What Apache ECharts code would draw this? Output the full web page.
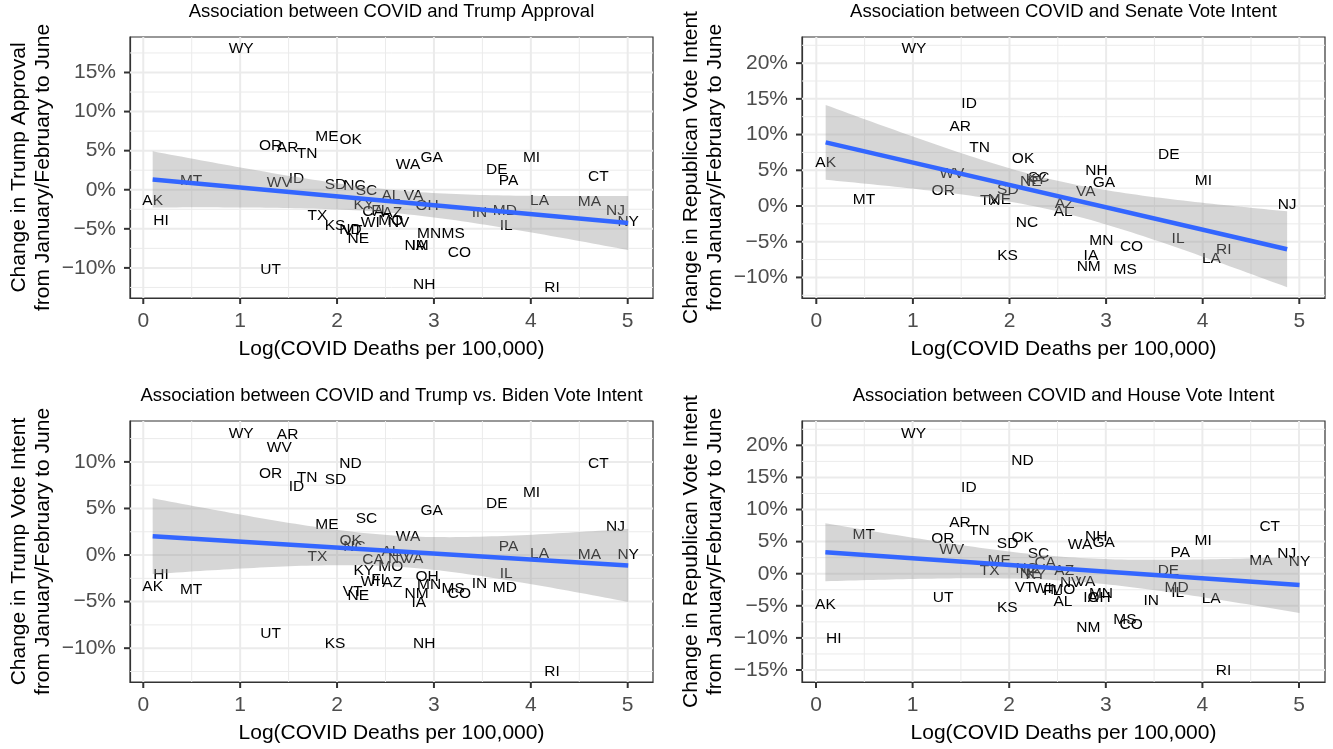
<!DOCTYPE html>
<html><head><meta charset="utf-8">
<script src="https://cdn.jsdelivr.net/npm/echarts@6/dist/echarts.min.js"></script>
<style>html,body{margin:0;padding:0;background:#fff}#c{width:1333px;height:749px}</style>
</head><body><div id="c"></div>
<script>
// ---- data ----
const states = ['AK','HI','MT','WY','OR','UT','WV','AR','ID','TN','TX','ME','KS','SD','OK','ND','NC','VT','NE','KY','SC','WI','CA','FL','MO','AL','AZ','NV','WA','VA','NM','IA','NH','OH','MN','GA','MS','CO','IN','DE','MD','IL','PA','MI','LA','RI','MA','CT','NJ','NY'];
const logDeaths = [0.097,0.183,0.494,1.01,1.314,1.315,1.404,1.49,1.582,1.691,1.798,1.896,1.98,1.983,2.14,2.138,2.18,2.16,2.22,2.276,2.303,2.343,2.372,2.446,2.555,2.556,2.57,2.636,2.733,2.79,2.82,2.843,2.90,2.93,2.95,2.977,3.198,3.263,3.47,3.648,3.732,3.745,3.771,4.007,4.09,4.218,4.605,4.697,4.874,5.005];
const trumpApproval = [-1.37,-4.0,1.1,18.0,5.66,-10.2,0.89,5.36,1.40,4.6,-3.32,6.72,-4.56,0.64,6.38,-5.1,0.55,-5.3,-6.26,-1.88,-0.09,-4.26,-2.86,-2.64,-4.0,-0.82,-2.98,-4.26,3.19,-0.73,-7.11,-7.11,-12.2,-2.0,-5.62,4.16,-5.62,-8.1,-2.98,2.55,-2.64,-4.56,1.19,4.16,-1.45,-12.5,-1.58,1.61,-2.64,-4.14];
const senateVote = [6.06,null,0.84,22.08,2.15,null,4.48,11.1,14.38,8.2,0.75,0.84,-7.0,2.24,6.68,null,-2.34,null,3.4,3.7,3.97,null,null,null,null,-0.8,0.37,null,null,2.0,-8.5,-7.0,4.9,null,-4.86,3.27,-8.87,-5.7,null,7.24,null,-4.52,null,3.55,-7.33,-6.16,null,null,0.14,null];
const trumpBidenVote = [-3.40,-2.15,-3.76,13.05,8.76,-8.40,11.55,12.88,7.33,8.34,-0.18,3.22,-9.48,8.05,1.50,9.84,0.89,-3.94,-4.37,-1.68,3.93,-2.86,-0.54,-2.68,-1.25,0.36,-2.97,-0.43,1.96,-0.36,-4.11,-5.12,-9.48,-2.33,-3.22,4.72,-3.58,-4.18,-3.11,5.54,-3.47,-1.97,0.89,6.69,0.11,-12.52,0.0,9.84,3.04,0.0];
const houseVote = [-4.85,-10.17,6.0,21.86,5.49,-3.81,3.67,7.91,13.33,6.62,0.5,2.0,-5.37,4.71,5.64,17.63,0.83,-2.11,0.06,-0.2,3.16,-2.3,1.7,-2.6,-2.5,-4.4,0.5,-1.35,4.56,-1.3,-8.37,-3.7,5.74,-3.7,-3.1,4.81,-7.18,-7.95,-4.19,0.42,-2.11,-2.94,3.26,5.12,-3.92,-15.19,1.97,7.29,3.05,1.86];

const xTicks = [0,1,2,3,4,5];
const xMinorTicks = [0.5,1.5,2.5,3.5,4.5];
const yTicks1 = [-10,-5,0,5,10,15];
const yMinor1 = [-12.5,-7.5,-2.5,2.5,7.5,12.5,17.5];
const yTicks2 = [-10,-5,0,5,10,15,20];
const yMinor2 = [-12.5,-7.5,-2.5,2.5,7.5,12.5,17.5,22.5];
const yTicks3 = [-10,-5,0,5,10];
const yMinor3 = [-12.5,-7.5,-2.5,2.5,7.5,12.5];
const yTicks4 = [-15,-10,-5,0,5,10,15,20];
const yMinor4 = [-12.5,-7.5,-2.5,2.5,7.5,12.5,17.5,22.5];

const panelTitles = ['Association between COVID and Trump Approval','Association between COVID and Senate Vote Intent','Association between COVID and Trump vs. Biden Vote Intent','Association between COVID and House Vote Intent'];
const yTitles = ['Change in Trump Approval\nfrom January/February to June','Change in Republican Vote Intent\nfrom January/February to June','Change in Trump Vote Intent\nfrom January/February to June','Change in Republican Vote Intent\nfrom January/February to June'];
const xTitle = 'Log(COVID Deaths per 100,000)';

// ---- layout ----
const FONT = '"Liberation Sans", Arial, Helvetica, sans-serif';
const panels = [
  {left:130, top:37, width:523, height:261, xmin:-0.137, xmax:5.261, ymin:-13.85, ymax:19.54, ys:trumpApproval, yt:yTicks1, ym:yMinor1},
  {left:802, top:37, width:523, height:261, xmin:-0.148, xmax:5.266, ymin:-12.88, ymax:23.66, ys:senateVote, yt:yTicks2, ym:yMinor2},
  {left:130, top:421, width:523, height:261, xmin:-0.137, xmax:5.261, ymin:-13.63, ymax:14.39, ys:trumpBidenVote, yt:yTicks3, ym:yMinor3},
  {left:802, top:421, width:523, height:261, xmin:-0.145, xmax:5.269, ymin:-16.87, ymax:23.79, ys:houseVote, yt:yTicks4, ym:yMinor4}
];

function tq(df){ const z=1.959964; return z + (z*z*z+z)/(4*df) + (5*Math.pow(z,5)+16*z*z*z+3*z)/(96*df*df); }
function lmFit(xs, ys){
  const px=[], py=[];
  xs.forEach((x,i)=>{ if(ys[i]!==null && ys[i]!==undefined){px.push(x);py.push(ys[i]);} });
  const n=px.length; const mx=px.reduce((a,b)=>a+b,0)/n; const my=py.reduce((a,b)=>a+b,0)/n;
  let sxx=0,sxy=0; for(let i=0;i<n;i++){sxx+=(px[i]-mx)**2; sxy+=(px[i]-mx)*(py[i]-my);}
  const b=sxy/sxx, a=my-b*mx;
  let sse=0; for(let i=0;i<n;i++){sse+=(py[i]-a-b*px[i])**2;}
  const s2=sse/(n-2), t=tq(n-2);
  const lo=Math.min(...px), hi=Math.max(...px);
  const band=[]; const N=80;
  for(let k=0;k<=N;k++){ const x=lo+(hi-lo)*k/N; const yh=a+b*x; const se=Math.sqrt(s2*(1/n+(x-mx)**2/sxx)); band.push([x,yh-t*se,yh+t*se]); }
  return {a,b,lo,hi,band};
}
const pct = v => (v<0 ? '\u2212'+(-v) : ''+v) + '%';

const grid=[], xAxis=[], yAxis=[], series=[], graphic=[];
panels.forEach((p,i)=>{
  grid.push({left:p.left, top:p.top, width:p.width, height:p.height, show:true, borderColor:'#333333', borderWidth:1.2, backgroundColor:'#ffffff'});
  xAxis.push({gridIndex:i, type:'value', min:p.xmin, max:p.xmax, position:'bottom',
    axisLine:{show:true, onZero:false, lineStyle:{color:'#333333', width:1.2}}, splitLine:{show:false},
    axisTick:{show:false, customValues:xTicks},
    axisLabel:{customValues:xTicks, margin:13, color:'#4D4D4D', fontSize:21, fontFamily:FONT}});
  yAxis.push({gridIndex:i, type:'value', min:p.ymin, max:p.ymax, position:'left',
    axisLine:{show:true, onZero:false, lineStyle:{color:'#333333', width:1.2}}, splitLine:{show:false},
    axisTick:{show:false, customValues:p.yt},
    axisLabel:{customValues:p.yt, margin:14, color:'#4D4D4D', fontSize:21, fontFamily:FONT, formatter:pct}});
  // grid lines
  series.push({type:'custom', xAxisIndex:i, yAxisIndex:i, z:1, silent:true, clip:false, data:[[2,0]],
    renderItem:(params, api)=>{
      const cs=params.coordSys; const ch=[];
      const vline=(v,w)=>{const x=api.coord([v,0])[0]; ch.push({type:'line', shape:{x1:x,y1:cs.y,x2:x,y2:cs.y+cs.height}, style:{stroke:'#EBEBEB', lineWidth:w}});};
      const hline=(v,w)=>{const y=api.coord([0,v])[1]; ch.push({type:'line', shape:{x1:cs.x,y1:y,x2:cs.x+cs.width,y2:y}, style:{stroke:'#EBEBEB', lineWidth:w}});};
      xMinorTicks.forEach(v=>vline(v,1)); p.ym.forEach(v=>hline(v,1));
      xTicks.forEach(v=>vline(v,2)); p.yt.forEach(v=>hline(v,2));
      return {type:'group', children:ch};
    }});
  // axis tick marks (outside the panel)
  series.push({type:'custom', xAxisIndex:i, yAxisIndex:i, z:6, silent:true, clip:false, data:[[2,0]],
    renderItem:(params, api)=>{
      const cs=params.coordSys; const ch=[];
      xTicks.forEach(v=>{const x=api.coord([v,0])[0]; ch.push({type:'line', shape:{x1:x,y1:cs.y+cs.height,x2:x,y2:cs.y+cs.height+6}, style:{stroke:'#333333', lineWidth:2}});});
      p.yt.forEach(v=>{const y=api.coord([0,v])[1]; ch.push({type:'line', shape:{x1:cs.x-6,y1:y,x2:cs.x,y2:y}, style:{stroke:'#333333', lineWidth:2}});});
      return {type:'group', children:ch};
    }});
  // state labels
  const pts=[], names=[];
  logDeaths.forEach((x,k)=>{ if(p.ys[k]!==null){ pts.push([x,p.ys[k]]); names.push(states[k]); } });
  series.push({type:'custom', xAxisIndex:i, yAxisIndex:i, z:2, silent:true, data:pts,
    renderItem:(params, api)=>{
      const c=api.coord([api.value(0),api.value(1)]);
      return {type:'text', x:c[0], y:c[1], style:{text:names[params.dataIndex], fill:'#000000', fontSize:15.5, fontFamily:FONT, align:'center', verticalAlign:'middle'}};
    }});
  // lm fit with 95% CI
  const f=lmFit(logDeaths, p.ys);
  series.push({type:'custom', xAxisIndex:i, yAxisIndex:i, z:3, silent:true, data:[[f.lo,0]],
    renderItem:(params, api)=>{
      const up=f.band.map(b=>api.coord([b[0],b[2]]));
      const dn=f.band.slice().reverse().map(b=>api.coord([b[0],b[1]]));
      return {type:'polygon', shape:{points:up.concat(dn)}, style:{fill:'rgba(153,153,153,0.4)'}};
    }});
  series.push({type:'line', xAxisIndex:i, yAxisIndex:i, z:4, silent:true, symbol:'none',
    data:[[f.lo, f.a+f.b*f.lo],[f.hi, f.a+f.b*f.hi]], lineStyle:{color:'#3366FF', width:4.5}});
  // titles
  const cx=p.left+p.width/2, cy=p.top+p.height/2;
  graphic.push({type:'text', x:cx, y:p.top-25, style:{text:panelTitles[i], fill:'#000', fontSize:18.5, fontFamily:FONT, align:'center', verticalAlign:'middle'}});
  graphic.push({type:'text', x:cx, y:p.top+p.height+51, style:{text:xTitle, fill:'#000', fontSize:21, fontFamily:FONT, align:'center', verticalAlign:'middle'}});
  graphic.push({type:'text', x:p.left-99, y:cy, rotation:Math.PI/2, style:{text:yTitles[i], fill:'#000', fontSize:21, lineHeight:24.5, fontFamily:FONT, align:'center', verticalAlign:'middle'}});
});

const chart=echarts.init(document.getElementById('c'), null, {renderer:'canvas'});
chart.setOption({animation:false, backgroundColor:'#ffffff', grid, xAxis, yAxis, series, graphic});
</script></body></html>
